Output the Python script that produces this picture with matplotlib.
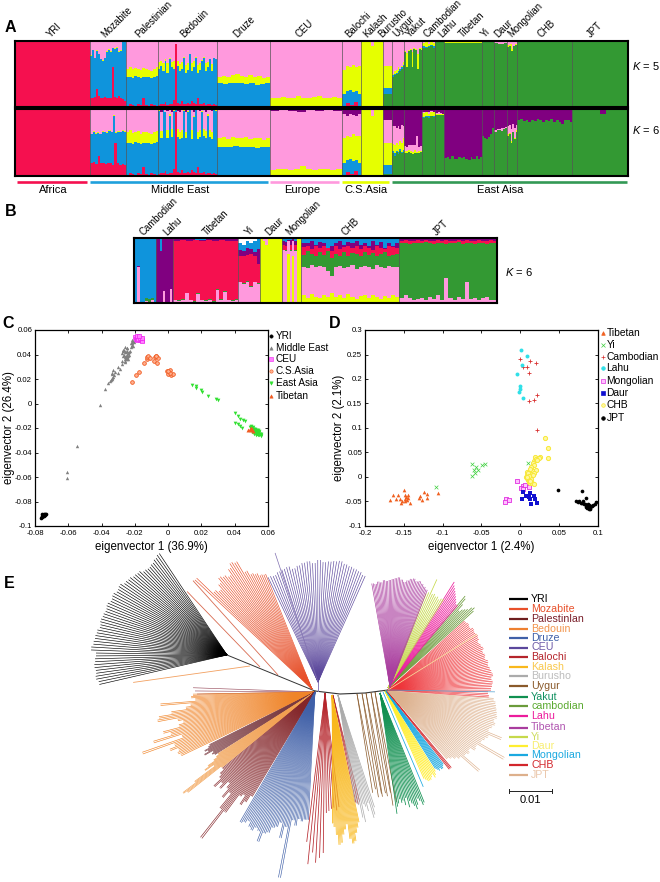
import numpy as np
import matplotlib
matplotlib.use("Agg")
import matplotlib.pyplot as plt
from matplotlib.collections import LineCollection

plt.rcParams['font.family'] = ['Liberation Sans', 'DejaVu Sans']
plt.rcParams['mathtext.fontset'] = 'custom'
plt.rcParams['mathtext.it'] = 'Liberation Sans:italic'
plt.rcParams['mathtext.rm'] = 'Liberation Sans'

W, H = 660, 882

# ---------- Panel A data ----------
POPS_A = ['YRI', 'Mozabite', 'Palestinian', 'Bedouin', 'Druze', 'CEU', 'Balochi', 'Kalash', 'Burusho', 'Uygur',
          'Yakut', 'Cambodian', 'Lahu', 'Tibetan', 'Yi', 'Daur', 'Mongolian', 'CHB', 'JPT']
SIZES_A = [75, 36, 32, 58, 53, 72, 19, 22, 9, 12, 18, 13, 9, 37, 12, 13, 10, 55, 56]
COLS_A = ['#339933', '#F5104F', '#0F94DC', '#E6FF00', '#FF99DD', '#800080']

# cumulative tops: green, red, blue, yellow, pink, purple
K5 = {
 'YRI': [0, 1, 1, 1, 1, 1],
 'Mozabite': [0, [.13, .14, .15, .28, .16, .14, .13, .15, .14, .14, .13, .6, .15, .14, .16, .13, .12, .09],
              [.78, .86, .74, .85, .8, .72, .7, .74, .84, .87, .84, .89, .88, .9, .84, .85, .98, 1],
              [.79, .87, .75, .86, .81, .73, .71, .75, .85, .88, .85, .9, .89, .91, .85, .86, .99, 1], 1, 1],
 'Palestinian': [0, [.02, .04, .03, .02, .05, .03, .14, .03, .02, .04, .03, .02],
                 [.46, .45, .44, .47, .46, .44, .45, .46, .45, .44, .46, .47],
                 [.58, .6, .57, .59, .58, .56, .59, .57, .56, .55, .58, .6], 1, 1],
 'Bedouin': [0, [.03, .05, .04, .07, .03, .05, .04, .1, .95, .06, .05, .09, .05, .04, .06, .05, .09, .06, .04, .13, .05, .04, .06, .03, .05, .04, .03, .04, .03],
             [.58, .62, .55, .7, .52, .72, .6, .58, .95, .62, .55, .58, .75, .52, .56, .8, .55, .6, .75, .52, .56, .7, .75, .55, .6, .72, .54, .74, .72],
             [.68, .7, .66, .72, .66, .74, .68, .69, .96, .7, .65, .68, .76, .64, .67, .81, .66, .69, .76, .63, .67, .71, .76, .66, .68, .73, .65, .75, .73], 1, 1],
 'Druze': [0, [.01, 0, .01, 0, .02, 0, .01],
           [.36, .35, .36, .37, .36, .35, .36, .34, .35, .36],
           [.46, .47, .45, .48, .5, .47, .46, .48, .45, .47, .44, .46], 1, 1],
 'CEU': [0, 0, [.01, 0, .01, 0, .005],
         [.13, .14, .15, .13, .14, .16, .14, .13, .15, .16, .14, .13, .15, .14], 1, 1],
 'Balochi': [0, [.02, .06, .03, .08, .02], [.2, .24, .26, .22, .24, .2],
             [.56, .62, .6, .64, .6, .62], [1], 1],
 'Kalash': [0, 0, 0, [1, 1, 1, 1, .92, 1, 1, 1, 1], 1, 1],
 'Burusho': [.2, .2, .29, .62, 1, 1],
 'Uygur': [[.46, .48, .5, .52, .55, .58, .62], 0,
           [.48, .5, .52, .54, .57, .6, .64], [.5, .54, .56, .6, .58, .62, .68], 1, 1],
 'Yakut': [[.83, .6, .85, .86, .6, .88, .86, .58, .88, .87], 0,
           0, [.85, .82, .87, .88, .83, .9, .88, .8, .9, .89], 1, 1],
 'Cambodian': [[.9, .89, .91, .92, .9], 0, [.92, .91, .93, .94, .92],
               [.97, .98, .96, .99, .97], 1, 1],
 'Lahu': [1, 1, 1, 1, 1, 1],
 'Tibetan': [.97, .97, .97, [.99, .98, .995, .985], 1, 1],
 'Yi': [[1, .99, 1], 1, 1, 1, 1, 1],
 'Daur': [[.97, .95, .96, .97], 0, 0, 0, 1, 1],
 'Mongolian': [[.91, .93, .85, .92, .94], 0, 0, [.94, .95, .88, .95], 1, 1],
 'CHB': [1, 1, 1, 1, 1, 1],
 'JPT': [1, 1, 1, 1, 1, 1],
}
K6 = {
 'YRI': [0, 1, 1, 1, 1, 1],
 'Mozabite': [0, [.19, .21, .18, .3, .2, .19, .18, .2, .19, .17, .5, .19, .17, .18, .16],
              [.62, .66, .63, .64, .62, .66, .65, .64, .67, .65, .9, .64, .66, .65, .67, .66],
              [.63, .67, .64, .65, .63, .67, .66, .65, .68, .66, .91, .65, .67, .66, .68, .67], 1, 1],
 'Palestinian': [0, [.02, .04, .03, .02, .05, .03, .14, .03, .02, .04, .03, .02],
                 [.5, .49, .48, .51, .5, .48, .49, .5, .49, .48, .5, .51],
                 [.66, .68, .64, .66, .67, .63, .65, .66, .64, .62, .65, .67], [.98, .99, .98, 1], 1],
 'Bedouin': [0, [.03, .05, .04, .07, .03, .05, .04, .1, .95, .06, .05, .09, .05, .04, .06, .05, .09, .06, .04, .13, .05, .04, .06, .03, .05, .04, .03, .04, .03],
             [.97, .56, .98, .95, .56, .9, .58, .97, .98, .58, .55, .56, .97, .56, .96, .98, .55, .88, .98, .55, .58, .96, .6, .56, .9, .58, .55, .98, .97],
             [.98, .67, .98, .96, .68, .92, .7, .98, .98, .7, .65, .68, .98, .66, .97, .98, .68, .9, .98, .66, .69, .97, .7, .67, .92, .69, .66, .98, .98],
             [.99, .96, 1, .98, .97, 1, .95, .98, 1, .97, .96, 1, .98, .96, 1, .97, 1, .96, .98, 1, .97, 1, .98, .96, .99, 1, .97, 1, .99], 1],
 'Druze': [0, [.01, 0, .01, 0, .02, 0, .01],
           [.44, .43, .44, .45, .44, .43, .44, .42, .43, .44],
           [.56, .58, .55, .58, .57, .56, .58, .55, .57, .56, .54, .56], [.99, 1], 1],
 'CEU': [0, 0, [.01, 0, .01, 0, .005],
         [.09, .1, .11, .09, .1, .15, .1, .09, .11, .1, .09, .11],
         [.97, .98, .97, .96, .98, .97, .98, .97], 1],
 'Balochi': [0, [.02, .06, .03, .08, .02], [.2, .24, .26, .22, .24, .2],
             [.56, .6, .58, .62, .6, .6], [.92, .9, .93, .91, .89, .92], 1],
 'Kalash': [0, 0, 0, [1, 1, 1, 1, .9, 1, 1, 1, 1], 1, 1],
 'Burusho': [.03, .03, .17, .5, .83, 1],
 'Uygur': [[.34, .3, .36, .33, .38, .34, .36], 0,
           [.37, .34, .38, .36, .41, .36, .39], [.48, .46, .5, .47, .52, .5, .56], [.75, .74, .72, .75, .7, .76, .75], 1],
 'Yakut': [[.34, .34, .36, .35, .33, .35, .34, .35, .36], 0, 0,
           [.38, .37, .39, .37, .36, .39, .36, .38, .38],
           [.45, .44, .47, .46, .47, .46, .6, .44, .45], 1],
 'Cambodian': [[.86, .88, .87, .89, .88], 0, [.88, .9, .89, .9, .9],
               [.94, .95, .93, .96, .95], [.95, .96, .95, .97, .96], 1],
 'Lahu': [.91, .91, .91, .92, [.94, .96, .94, .93], 1],
 'Tibetan': [[.27, .28, .26, .3, .26, .25, .28, .27, .29, .26, .24, .28, .26, .3, .25, .28], 0, 0, 0, 0, 1],
 'Yi': [[.6, .57, .55, .58, .62, .72], 0, 0, 0, 0, 1],
 'Daur': [[.66, .69, .68, .67, .7, .71], 0, 0, 0, [.68, .7, .7, .71, .72, .73], 1],
 'Mongolian': [[.6, .62, .5, .65, .55, .66], 0, 0, [.62, .64, .52, .66, .57, .68], [.75, .76, .7, .78, .72, .76], 1],
 'CHB': [[.83, .85, .82, .84, .8, .84, .82, .85, .83, .81, .84, .82, .85, .8, .83, .81, .78, .84, .83, .8], 0, 0, 0, 0, 1],
 'JPT': [[1, .99, 1, 1, 1, .92, 1, 1, .99, 1], 0, 0, 0, 0, 1],
}
REGIONS = ['Africa', 'Middle East', 'Europe', 'C.S.Asia', 'East Aisa']
REG_COLS = ['#F5104F', '#1FA0DC', '#FF99DD', '#E6FF00', '#339955']

# ---------- Panel B data ----------
POPS_B = ['Cambodian', 'Lahu', 'Tibetan', 'Yi', 'Daur', 'Mongolian', 'CHB', 'JPT']
SIZES_B = [22, 17, 65, 22, 22, 19, 98, 98]
# cumulative tops: yellow, pink, green, red, purple, blue
COLS_B = ['#E6FF00', '#FF99DD', '#339933', '#F5104F', '#800080', '#0F94DC']
KB = {
 'Cambodian': [0, [.01, .55, .02, .01, .03, .01, .05, .01], [.01, .55, .02, .01, .08, .06, .08, .01],
               [.01, .55, .02, .01, .08, .06, .08, .01], [.01, .57, .02, .01, .08, .06, .08, .01], 1],
 'Lahu': [0, [.01, .01, .02, .01, .18, .02, .01, .01, .22, .02], 0,
          0, [.99, .99, .8, .99, 1, 1, 1, 1, 1, 1], 1],
 'Tibetan': [[0, 0, .01, 0, 0, 0, 0, .02, .01, 0],
             [.04, .03, .05, .15, .04, .02, .14, .04, .03, .05, .02, .2, .05, .17, .04, .03, .05],
             [.05, .04, .06, .16, .05, .03, .15, .05, .04, .06, .03, .21, .06, .18, .05, .04, .06],
             [.96, .97, .95, .97, .96, .97, .96, .97, .95, .96], [.98, .99, .97, .98, .99, .98], 1],
 'Yi': [0, [.32, .3, .33, .25, .32, .3], [.33, .31, .34, .26, .33, .31],
        [.73, .72, .74, .75, .72, .6], [.82, .8, .84, .83, .78, .83], [.92, .9, .95, .93, .96, .98]],
 'Daur': [[1, .95, .9, 1, 1, 1, 1, 1, 1], 1, 1, 1, 1, 1],
 'Mongolian': [[0, 0, .75, 0, .72, 0, 1, 1], [.82, .8, .95, .8, .95, .8, 1, 1], [.82, .82, .95, .82, .95, .82, 1, 1],
               [.9, .88, .95, .9, .95, .9, 1, 1], [.96, .94, .97, .97, .98, .96, 1, 1], 1],
 'CHB': [[.12, .08, .14, .1, .07, .13, .09, .15, .1, .12, .08, .14, .1, .06, .11, .13, .07, .12, .09, .06, .11, .08, .13, .1],
         [.56, .54, .58, .55, .57, .56, .5, .42, .55, .57, .54, .56, .58, .53, .56, .57, .55, .53, .58, .56, .54, .57, .55, .56],
         [.74, .8, .76, .72, .78, .74, .8, .7, .76, .72, .78, .73, .77, .75, .72, .78, .74, .77, .72, .75, .78, .73, .74, .76],
         [.86, .88, .83, .87, .85, .88, .85, .8, .88, .83, .86, .88, .84, .87, .83, .88, .85, .82, .87, .85, .83, .88, .86, .85],
         [.93, .92, .95, .9, .94, .93, .85, .88, .93, .95, .9, .94, .92, .95, .9, .93, .88, .95, .9, .94, .85, .93, .88, .92], 1],
 'JPT': [[0, .01, 0, 0, .01, 0, 0, 0, .01, 0, .02, 0, 0, .01, 0, 0, 0, .01, 0, 0, 0, 0, .01, 0],
         [.08, .12, .07, .05, .06, .08, .05, .1, .06, .12, .05, .38, .07, .05, .1, .06, .33, .06, .08, .05, .07, .09, .05, .04],
         [.92, .93, .91, .92, .93, .92, .94, .92, .91, .93, .92, .91, .93, .92, .94, .91, .93, .92, .91, .93, .92, .91, .93, .92],
         [.95, .97, .96, .95, .97, .96, .97, .95, .96, .97, .95, .97, .96, .95, .97, .96, .97, .95, .96, .97, .95, .96, .97, .96],
         [1], 1],
}

# ---------- Panel C data ----------
C_LABELS = ['YRI', 'Middle East', 'CEU', 'C.S.Asia', 'East Asia', 'Tibetan']
C_YRI_X = [-.0765, -.076, -.0755, -.075, -.0745, -.074, -.0735, -.0755, -.075, -.0745, -.074]
C_YRI_Y = [-.0935, -.093, -.092, -.092, -.0915, -.091, -.0905, -.0905, -.091, -.09, -.0905]
C_ME_X = [-.061, -.061, -.055, -.041, -.038, -.036, -.035, -.034, -.034, -.033, -.032, -.033, -.03, -.03, -.029, -.028, -.028, -.026,
          -.027, -.026, -.026, -.025, -.025, -.025, -.024, -.027, -.026, -.024, -.023, -.025, -.026, -.022, -.022, -.0215, -.021, -.021, -.0225, -.024, -.026,
          -.0345, -.0335, -.0325, -.0335, -.0275, -.0265, -.0255, -.0245, -.0235, -.0265, -.0255, -.0245, -.027, -.0255, -.0245, -.0235, -.0225, -.0215, -.022, -.0205]
C_ME_Y = [-.061, -.056, -.035, -.001, .0115, .017, .018, .02, .024, .022, .026, .027, .025, .03, .028, .032, .035, .036,
          .039, .038, .042, .04, .043, .045, .041, .044, .046, .039, .043, .037, .034, .048, .05, .049, .051, .047, .046, .036, .035,
          .019, .021, .023, .025, .041, .04, .039, .038, .04, .044, .042, .045, .043, .037, .036, .042, .049, .047, .052, .05]
C_CEU_X = [-.02, -.0195, -.019, -.0185, -.018, -.0175, -.017, -.0165, -.016, -.0155, -.019, -.018, -.017, -.016, -.0185, -.0175]
C_CEU_Y = [.054, .053, .054, .053, .054, .053, .052, .053, .052, .051, .052, .0525, .0535, .0535, .055, .055]
C_CS_X = [-.022, -.0195, -.0175, -.0145, -.013, -.0125, -.012, -.011, -.008, -.0075, -.006, -.0085, -.0065, -.007, -.0005, .0005, .001, 0, .002, .003, .001, 0]
C_CS_Y = [.0175, .023, .026, .033, .036, .038, .039, .037, .038, .039, .037, .035, .033, .0385, .0265, .026, .027, .024, .023, .024, .025, .0265]
C_EA_X = [.0145, .0165, .017, .02, .0205, .024, .0285, .03, .04, .042, .043, .045, .046, .04, .042, .043, .0445, .049, .05, .051, .052, .053, .054, .055, .056, .0505, .0515, .0525, .0535, .0545, .0555, .05, .052, .054,
          .051, .0515, .052, .0525, .053, .0535, .054, .0545, .055, .0495, .0505, .0515, .0525, .0535, .0545, .0555]
C_EA_Y = [.0155, .014, .013, .011, .0095, .0065, .0035, .0025, -.008, -.010, -.0125, -.0135, -.014, -.016, -.017, -.018, -.020, -.019, -.02, -.021, -.022, -.023, -.024, -.025, -.026, -.022, -.023, -.024, -.025, -.026, -.025, -.018, -.021, -.022,
          -.0195, -.0205, -.0215, -.0225, -.0235, -.0245, -.0255, -.0235, -.0245, -.0195, -.0235, -.0245, -.0255, -.0215, -.0225, -.0265]
C_TB_X = [.048, .049, .0495, .05, .0505, .051]
C_TB_Y = [-.0215, -.021, -.02, -.022, -.021, -.0225]

# ---------- Panel D data ----------
D_LABELS = ['Tibetan', 'Yi', 'Cambodian', 'Lahu', 'Mongolian', 'Daur', 'CHB', 'JPT']
D_TB_X = [-.168, -.164, -.16, -.157, -.155, -.154, -.15, -.149, -.148, -.147, -.146, -.145, -.144, -.142, -.153, -.149, -.147, -.13, -.129, -.126, -.124, -.12, -.12, -.106]
D_TB_Y = [-.047, -.036, -.044, -.036, -.045, -.054, -.027, -.036, -.044, -.041, -.046, -.043, -.037, -.054, -.05, -.048, -.04, -.043, -.039, -.047, -.03, -.034, -.042, -.033]
D_YI_X = [-.0625, -.0616, -.057, -.06, -.059, -.054, -.049, -.046, -.108, .01]
D_YI_Y = [.0024, .026, .021, .014, .008, .014, .024, .026, -.021, .029]
D_CA_X = [-.001, .012, .004, .009, .011, .02, .022, .017, .011, .021]
D_CA_Y = [.24, .237, .224, .224, .213, .232, .167, .158, .156, .096]
D_LA_X = [.001, .009, .002, -.004, 0, 0, -.002, .003]
D_LA_Y = [.259, .246, .228, .21, .186, .179, .173, .162]
D_MO_X = [-.004, .003, .001, .006, .011, .003, -.019, -.02, -.014]
D_MO_Y = [-.008, -.018, -.023, -.017, -.02, -.024, -.045, -.051, -.047]
D_DA_X = [.003, .013, .007, .002, .011, .012, .018, .019, .014, .021]
D_DA_Y = [-.03, -.032, -.039, -.044, -.04, -.045, -.039, -.044, -.056, -.054]
D_CH_X = [.032, .035, .035, .025, .021, .018, .016, .024, .019, .02, .022, .017, .014, .016, .012, .009, .008, .01, .012, .014, .009, .01, .011, .013, .015, .018, .007, .008, .012, .01, .013, .02, .018, .016, .014, .012, .011, .009]
D_CH_Y = [.08, .06, .038, .041, .038, .032, .028, .038, .04, .036, .034, .025, .02, .012, .016, .011, .005, .002, 0, .004, -.002, -.006, -.01, -.012, -.013, -.015, .001, -.003, .006, .008, -.006, .015, .008, .005, -.004, -.008, .003, -.001]
D_JP_X = [.048, .079, .072, .074, .076, .078, .08, .082, .084, .086, .088, .09, .092, .094, .096, .098, .085, .087, .089, .091, .083, .081, .084, .086, .088, .09]
D_JP_Y = [-.027, -.028, -.048, -.052, -.05, -.054, -.053, -.055, -.058, -.06, -.062, -.063, -.06, -.057, -.056, -.052, -.042, -.055, -.065, -.06, -.056, -.05, -.062, -.064, -.058, -.065]

# ---------- Panel E data ----------
LEG_E = ['YRI', 'Mozabite', 'Palestinlan', 'Bedouin', 'Druze', 'CEU', 'Balochi', 'Kalash', 'Burusho', 'Uygur',
         'Yakut', 'cambodian', 'Lahu', 'Tibetan', 'Yi', 'Daur', 'Mongolian', 'CHB', 'JPT']
LEG_LINE = ['#000000', '#E8502A', '#6E1E1E', '#EE8030', '#4060A8', '#5B479C', '#B5252B', '#F9B81C', '#ABABAB', '#8A5A2B',
            '#109050', '#6B9B3B', '#EC1C9C', '#A93C9E', '#C6D94B', '#FFEE30', '#1BA9E0', '#D2262C', '#DDB08C']
LEG_TEXT = ['#000000', '#E8502A', '#7A1F2A', '#F2954D', '#4060A8', '#6E5BA8', '#B5252B', '#F9C84C', '#BDBDBD', '#8A5A2B',
            '#109060', '#5BAA30', '#EC1C9C', '#B055B0', '#CEDD60', '#F8EE70', '#1BA9E0', '#D2262C', '#EBC8AC']
R_YRI = [122, 120, 118, 117, 118, 121, 122, 124, 125, 128, 127, 129, 128, 130, 129, 130, 131, 130, 132, 133, 134, 136, 131, 132, 133, 132, 133, 131]
R_MOZ = [160, 138, 135, 140, 145, 143, 140, 146, 150, 148, 135, 130, 128, 125, 124]
R_BED1 = [122, 124, 120, 155, 125, 130, 145, 158, 160, 140, 135, 140, 157, 150, 169, 140, 183, 150, 156, 148, 150, 148]
R_PAL1 = [118, 120, 125, 122, 127, 118, 120, 118]
R_BED2 = [115, 118, 122, 130, 135, 125, 150, 166, 162, 120]
R_PAL2 = [120, 125, 128, 138, 130, 135, 125, 130, 140, 132, 150, 185, 150, 128, 125, 135, 130, 122]
R_DRU = [150, 148, 145, 150, 152, 148, 150, 160, 150, 148, 142, 140, 135, 150, 138, 189, 130, 135, 128, 130, 128, 128]
R_CEU = [116, 115, 117, 118, 119, 116, 118, 120, 121, 119, 122, 120, 121, 122, 123, 121, 120, 119, 118, 116]
R_BAL = [150, 172, 160, 170, 165, 160, 120, 118, 116, 115, 118, 115]
R_KAL = [128, 132, 140, 150, 148, 140, 135, 130, 145, 150, 148, 140, 135, 130]
R_BUR = [108, 110, 112, 125, 130, 112, 115, 120, 112, 128, 125, 118]
R_YAK = [122, 115, 112, 108, 112, 110, 115, 108, 118, 112, 115, 118, 122, 118, 112, 115, 120, 118]
R_DAU = [96, 98, 100, 100, 100, 98, 96, 100, 98, 95]
R_MON = [92, 94, 96, 94, 96, 96, 94, 93]
R_JPT = [90, 92, 95, 98, 121, 100, 102, 100, 105, 104, 134, 106, 108, 110, 123, 108, 110, 112, 110, 112, 111, 110, 109, 108, 106]
R_CHB = [101, 100, 103, 104, 105, 104, 106, 105, 104, 103, 104, 102, 103, 102, 104, 103, 102, 104, 105, 104, 105, 103, 104, 103]
R_CAM = [115, 118, 116, 112, 110, 108, 105, 112, 118, 120]
R_LAH = [108, 108, 110, 112, 114, 116, 118, 120, 122, 125]
R_YI = [105, 104, 102, 104, 103, 105, 104, 119, 104, 102]
R_TIB = [104, 106, 108, 110, 109, 111, 110, 108, 106, 108, 110, 109, 108, 107, 106, 107, 105, 106, 104, 105]

fig = plt.figure(figsize=(W / 100, H / 100), dpi=100)
fig.patch.set_facecolor('white')

def axpx(l, t, r, b):
    return fig.add_axes([l / W, 1 - b / H, (r - l) / W, (b - t) / H])

def column(vals, n):
    a = np.atleast_1d(np.array(vals, dtype=float))
    return a[(np.arange(n) * len(a) / n).astype(int)]

def stack_panel(l, t, r, b, pops, sizes, tops, cols):
    ax = axpx(l, t, r, b)
    start = 0
    for p, n in zip(pops, sizes):
        x = start + np.arange(n)
        lower = np.zeros(n)
        for v, c in zip(tops[p], cols):
            top = np.maximum(column(v, n), lower)
            if np.any(top > lower):
                ax.bar(x, top - lower, bottom=lower, width=1.02, align='edge', color=c, linewidth=0)
            lower = top
        start += n
        if start < sum(sizes):
            ax.axvline(start, color='#555555', lw=0.5)
    ax.set_xlim(0, sum(sizes))
    ax.set_ylim(0, 1)
    ax.set_xticks([])
    ax.set_yticks([])
    for s in ax.spines.values():
        s.set_linewidth(1.5)
    return ax

stack_panel(15, 41, 628, 107, POPS_A, SIZES_A, K5, COLS_A)
stack_panel(15, 109, 628, 176, POPS_A, SIZES_A, K6, COLS_A)
stack_panel(134, 238, 497, 303, POPS_B, SIZES_B, KB, COLS_B)

# Overlay for text and the tree, in reference pixels
ov = fig.add_axes([0, 0, 1, 1], zorder=5)
ov.set_xlim(0, W)
ov.set_ylim(H, 0)
ov.axis('off')

for txt, x, y in zip(['A', 'B', 'C', 'D', 'E'], [5, 5, 2, 329, 4], [27, 212, 323, 323, 583]):
    ov.text(x, y, txt, fontsize=11.5, fontweight='bold', va='center', ha='left')

LAB_X_A = [51, 105, 139, 184, 237, 300, 349, 367, 382, 397, 410, 427, 442, 463, 485, 498, 512, 542, 591]
for p, x in zip(POPS_A, LAB_X_A):
    ov.text(x, 38, p, fontsize=6.9, rotation=45, rotation_mode='anchor', ha='left', va='baseline')
LAB_X_B = [144, 167, 207, 249, 269, 290, 346, 437]
for p, x in zip(POPS_B, LAB_X_B):
    ov.text(x, 236, p, fontsize=6.9, rotation=45, rotation_mode='anchor', ha='left', va='baseline')

REG_X0 = [17, 89.5, 270, 342, 392]
REG_X1 = [87, 268, 339, 389, 627]
REG_TX = [53, 180, 302, 366, 500]
for r, c, a, b, tx in zip(REGIONS, REG_COLS, REG_X0, REG_X1, REG_TX):
    ov.plot([a, b], [181.5, 181.5], color=c, lw=1.9, solid_capstyle='butt')
    ov.text(tx, 190, r, fontsize=8, ha='center', va='center')
ov.text(632, 66, '$K$ = 5', fontsize=8, va='center')
ov.text(632, 130, '$K$ = 6', fontsize=8, va='center')
ov.text(505, 272, '$K$ = 6', fontsize=8, va='center')

# ---------- Panels C, D ----------
def pca_axes(l, t, r, b, xlim, ylim, xt, yt, xl, yl):
    ax = axpx(l, t, r, b)
    ax.set_xlim(*xlim)
    ax.set_ylim(*ylim)
    ax.set_xticks(xt)
    ax.set_yticks(yt)
    ax.set_xticklabels([('%g' % v) for v in xt], fontsize=5.6)
    ax.set_yticklabels([('%g' % v) for v in yt], fontsize=5.6)
    ax.tick_params(direction='in', length=2, width=0.6, top=True, right=True)
    ax.tick_params(axis='x', pad=3)
    ax.tick_params(axis='y', pad=2)
    ax.set_xlabel(xl, fontsize=8.3)
    ax.set_ylabel(yl, fontsize=8.3)
    ax.xaxis.set_label_coords(0.5, -0.075)
    ax.yaxis.set_label_coords(-0.085, 0.5)
    for s in ax.spines.values():
        s.set_linewidth(0.9)
    return ax

axc = pca_axes(35, 330, 268, 526, (-.08, .06), (-.1, .06),
               [-.08, -.06, -.04, -.02, 0, .02, .04, .06],
               [-.1, -.08, -.06, -.04, -.02, 0, .02, .04, .06],
               'eigenvector 1 (36.9%)', 'eigenvector 2 (26.4%)')
axc.scatter(C_YRI_X, C_YRI_Y, s=7, c='black', marker='o', lw=0)
axc.scatter(C_ME_X, C_ME_Y, s=6, c='#808080', marker='^', lw=0)
axc.scatter(C_CEU_X, C_CEU_Y, s=6, facecolors='#FF80FF', edgecolors='#EE20EE', marker='s', lw=0.5)
axc.scatter(C_CS_X, C_CS_Y, s=7, facecolors='#FFB090', edgecolors='#F05A20', marker='o', lw=0.6)
axc.scatter(C_EA_X, C_EA_Y, s=7, c='#30E030', marker='v', lw=0)
axc.scatter(C_TB_X, C_TB_Y, s=8, c='#F05A20', marker='^', lw=0)

axd = pca_axes(365, 330, 598, 526, (-.2, .1), (-.1, .3),
               [-.2, -.15, -.1, -.05, 0, .05, .1],
               [-.1, -.05, 0, .05, .1, .15, .2, .25, .3],
               'eigenvector 1 (2.4%)', 'eigenvector 2 (2.1%)')
axd.scatter(D_TB_X, D_TB_Y, s=7, c='#F06020', marker='^', lw=0)
axd.scatter(D_YI_X, D_YI_Y, s=7, c='#40D040', marker='x', lw=0.5)
axd.scatter(D_CA_X, D_CA_Y, s=7, c='#D83030', marker='+', lw=0.6)
axd.scatter(D_LA_X, D_LA_Y, s=8, c='#30E0E8', marker='o', lw=0)
axd.scatter(D_MO_X, D_MO_Y, s=9, facecolors='#FFC0FF', edgecolors='#E030E0', marker='s', lw=0.6)
axd.scatter(D_DA_X, D_DA_Y, s=6, c='#1010D0', marker='s', lw=0)
axd.scatter(D_CH_X, D_CH_Y, s=9, facecolors='#FFF8A0', edgecolors='#F8E838', marker='o', lw=0.7)
axd.scatter(D_JP_X, D_JP_Y, s=7, c='black', marker='o', lw=0)

C_LEG_Y = [336, 348, 359, 371, 383, 396]
C_LEG_STY = [('o', 'black', 'black'), ('^', '#808080', '#808080'), ('s', '#FF80FF', '#EE20EE'),
             ('o', '#FFB090', '#F05A20'), ('v', '#30E030', '#30E030'), ('^', '#F05A20', '#F05A20')]
for t, y, (m, fc, ec) in zip(C_LABELS, C_LEG_Y, C_LEG_STY):
    ov.plot([271], [y], marker=m, ms=2.4, mfc=fc, mec=ec, mew=0.4, ls='none')
    ov.text(275.5, y, t, fontsize=7.2, va='center')
D_LEG_Y = [333, 345, 357, 368, 381, 393, 405, 418]
D_LEG_STY = [('^', '#F06020', '#F06020'), ('x', '#40D040', '#40D040'), ('+', '#D83030', '#D83030'),
             ('o', '#30E0E8', '#30E0E8'), ('s', '#FFC0FF', '#E030E0'), ('s', '#1010D0', '#1010D0'),
             ('o', '#FFF8A0', '#F8E838'), ('o', 'black', 'black')]
for t, y, (m, fc, ec) in zip(D_LABELS, D_LEG_Y, D_LEG_STY):
    ov.plot([603], [y], marker=m, ms=2.6, mfc=fc, mec=ec, mew=0.5, ls='none')
    ov.text(606.5, y, t, fontsize=7.4, va='center')

# ---------- Panel E ----------
def fan(hub, a0, a1, radii, color, lw=0.55, rep=1):
    r = np.repeat(np.array(radii, dtype=float), rep)
    ang = np.deg2rad(np.linspace(a0, a1, len(r)))
    segs = [[hub, (hub[0] + ri * np.cos(t), hub[1] - ri * np.sin(t))] for ri, t in zip(r, ang)]
    ov.add_collection(LineCollection(segs, colors=color, linewidths=lw, capstyle='butt'))

C = dict(zip(LEG_E, LEG_LINE))
HL = (315, 692)
ov.plot([227, 315], [655, 691], color='#333333', lw=0.7)
ov.plot([315, 340, 365, 388], [691, 694, 693, 690], color='#333333', lw=0.8)
ov.plot([318, 318], [682, 691], color='#8a7ab8', lw=0.7)
fan((227, 655), 123.7, 193, R_YRI, '#000000', 0.45, 2)
fan((250, 666), 188, 188, [118], '#F2A060', 0.6)
fan((260, 667), 134, 134, [105], '#D86A50', 0.6)
fan((278, 675), 132, 132, [127], '#D86A50', 0.6)
fan((312, 689), 137, 112, R_MOZ, '#E8502A', 0.45, 2)
fan((318, 682), 115.5, 66, R_CEU, '#5B479C', 0.45, 2)
fan((318, 682), 108.4, 108.4, [136], '#8070B0', 0.5)
fan(HL, 178, 181, [122, 120, 118], '#9A5060', 0.45)
fan(HL, 181, 205.5, R_BED1, '#F08428', 0.45, 2)
fan(HL, 206.5, 212, R_PAL1, '#7A3A40', 0.45, 2)
fan(HL, 212.5, 219, R_BED2, '#F2A050', 0.45, 2)
fan(HL, 219.5, 239, R_PAL2, '#84262A', 0.45, 2)
fan(HL, 240, 267, R_DRU, C['Druze'], 0.45, 2)
fan((325, 693), 263, 277, R_BAL, C['Balochi'], 0.55)
fan((333, 695), 282, 284, [110, 112, 110], C['Balochi'], 0.5)
fan((332, 695), 270, 282, R_KAL, C['Kalash'], 0.5, 2)
fan((338, 695), 279, 288, R_BUR, C['Burusho'], 0.5)
for hx, hy, ln in zip([357, 362, 366, 371, 375], [694, 693.5, 693, 692.5, 692], [100, 105, 105, 105, 115]):
    fan((hx, hy), 279, 281, [ln, ln - 3], C['Uygur'], 0.5)
fan((380, 693), 278, 292, R_YAK, C['Yakut'], 0.55)
fan((383, 692), 293, 293, [103], C['Mongolian'], 0.55)
fan((385, 691), 294, 302, R_DAU, C['Daur'], 0.6)
fan((386, 691), 302.5, 308, R_MON, C['Mongolian'], 0.6)
fan((387, 691), 308.5, 310, [100, 100, 100], C['CHB'], 0.55)
fan((388, 691), 311, 356, R_JPT, C['JPT'], 0.45, 2)
fan((388, 690), -4, 42, R_CHB, '#EE3338', 0.45, 2)
fan((388, 690), 32, 32, [105], '#F8E8A0', 0.5)
fan((388, 690), -1, -1, [107], '#50A0D0', 0.5)
fan((388, 688), 42, 50, R_CAM, C['cambodian'], 0.55)
fan((388, 688), 50, 58, R_LAH, C['Lahu'], 0.55)
fan((388, 688), 58, 68, R_YI, C['Yi'], 0.55)
fan((390, 687), 69, 100, R_TIB, C['Tibetan'], 0.45, 2)

LEG_Y = [599, 609, 618.5, 628.5, 638, 647.5, 657, 667, 676, 686, 697, 706, 716, 727.5, 737, 746, 755, 765, 774.5]
for t, lc, tc, y in zip(LEG_E, LEG_LINE, LEG_TEXT, LEG_Y):
    ov.plot([509, 528], [y, y], color=lc, lw=1.6, solid_capstyle='butt')
    ov.text(531, y, t, color=tc, fontsize=7.7, va='center')
ov.plot([509, 552], [791, 791], color='#222222', lw=0.7)
ov.plot([509, 509], [789, 793], color='#222222', lw=0.7)
ov.plot([552, 552], [789, 793], color='#222222', lw=0.7)
ov.text(530.5, 800, '0.01', fontsize=8, ha='center', va='center')

fig.savefig('out.png', dpi=100)
